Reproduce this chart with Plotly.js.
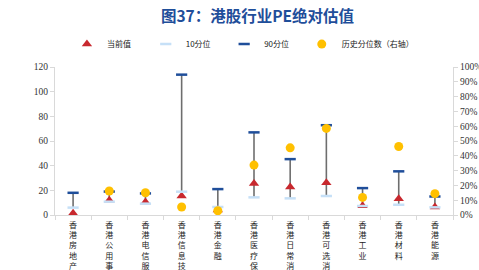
<!DOCTYPE html>
<html><head><meta charset="utf-8">
<script src="https://cdn.plot.ly/plotly-3.0.1.min.js"></script>
<style>html,body{margin:0;padding:0;background:#fff}#c{width:479px;height:270px}</style>
</head><body><div id="c"></div>
<script>
const categories = ["香港房地产","香港公用事业","香港电信服务","香港信息技术","香港金融","香港医疗保健","香港日常消费","香港可选消费","香港工业","香港材料","香港能源"];
const currentPE = [1.5, 12.0, 10.5, 15.4, 4.0, 25.6, 22.7, 26.1, 7.5, 13.2, 6.5];
const pct10 = [6.0, 10.8, 9.2, 18.9, 6.5, 14.3, 13.5, 15.4, 7.3, 8.3, 6.2];
const pct90 = [18.0, 19.0, 17.5, 113.8, 21.0, 67.0, 45.3, 72.8, 21.8, 35.4, 15.0];
const histPct = [null, 0.162, 0.15, 0.054, 0.029, 0.337, 0.454, 0.585, 0.119, 0.463, 0.144];

const vertLabels = categories.map(s => s.split('').join('<br>'));
const lx = [], ly = [];
categories.forEach((c, i) => { lx.push(c, c, null); ly.push(pct10[i], pct90[i], null); });

const traces = [
  {x: lx, y: ly, mode: 'lines', line: {color: '#6e6e6e', width: 1.6}, showlegend: false, hoverinfo: 'skip', cliponaxis: false},
  {x: categories, y: currentPE, name: '当前值', mode: 'markers', cliponaxis: false, legend: 'legend',
   marker: {symbol: 'triangle-up', size: 9, color: '#C8282E'}},
  {x: categories, y: pct10, name: '10分位', mode: 'markers', cliponaxis: false, legend: 'legend2',
   marker: {symbol: 'line-ew', size: 8, line: {color: '#C6E0F7', width: 2.5}}},
  {x: categories, y: pct90, name: '90分位', mode: 'markers', cliponaxis: false, legend: 'legend3',
   marker: {symbol: 'line-ew', size: 8, line: {color: '#1F4E9A', width: 2.5}}},
  {x: categories, y: histPct, name: '历史分位数（右轴）', mode: 'markers', yaxis: 'y2', cliponaxis: false, legend: 'legend4',
   marker: {symbol: 'circle', size: 9, color: '#FFC000'}}
];

const legFont = {family: 'Noto Sans CJK SC', size: 8, color: '#222'};
function leg(x) {
  return {orientation: 'h', x: x, xanchor: 'left', y: 1.155, yanchor: 'middle', font: legFont,
          itemwidth: 30, bgcolor: 'rgba(0,0,0,0)'};
}
const tickFont = {family: 'Liberation Serif, serif', size: 9.5, color: '#333'};
const layout = {
  width: 479, height: 270,
  margin: {l: 55, r: 26, t: 67, b: 55},
  paper_bgcolor: '#fff', plot_bgcolor: '#fff',
  title: {text: '<b>图37：港股行业PE绝对估值</b>', font: {family: 'Noto Sans CJK SC', size: 15.5, color: '#1F4E9A'},
          xref: 'container', x: 0.5376, xanchor: 'center', yref: 'container', y: 0.94, yanchor: 'middle'},
  showlegend: true,
  legend: leg(0.030), legend2: leg(0.228), legend3: leg(0.425), legend4: leg(0.620),
  xaxis: {type: 'category', tickmode: 'array', tickvals: categories, ticktext: vertLabels,
          tickangle: 0, tickson: 'boundaries', ticks: 'outside', ticklen: 4, tickcolor: '#d9d9d9',
          ticklabelstandoff: 2,
          showline: true, linecolor: '#d9d9d9', linewidth: 1, showgrid: false, zeroline: false,
          tickfont: {family: 'Noto Sans CJK SC', size: 8, color: '#222'}, automargin: false,
          range: [-0.5, 10.5]},
  yaxis: {range: [0, 120], dtick: 20, showgrid: false, zeroline: false, showline: true,
          linecolor: '#d9d9d9', ticks: 'outside', ticklen: 4, tickcolor: '#d9d9d9', tickfont: tickFont, automargin: false},
  yaxis2: {overlaying: 'y', side: 'right', range: [0, 1], dtick: 0.1, tickformat: '.0%', showgrid: false,
           zeroline: false, showline: true, linecolor: '#d9d9d9', ticks: 'outside', ticklen: 4,
           tickcolor: '#d9d9d9', tickfont: tickFont, automargin: false}
};
Plotly.newPlot('c', traces, layout, {displayModeBar: false, staticPlot: true});
</script></body></html>
